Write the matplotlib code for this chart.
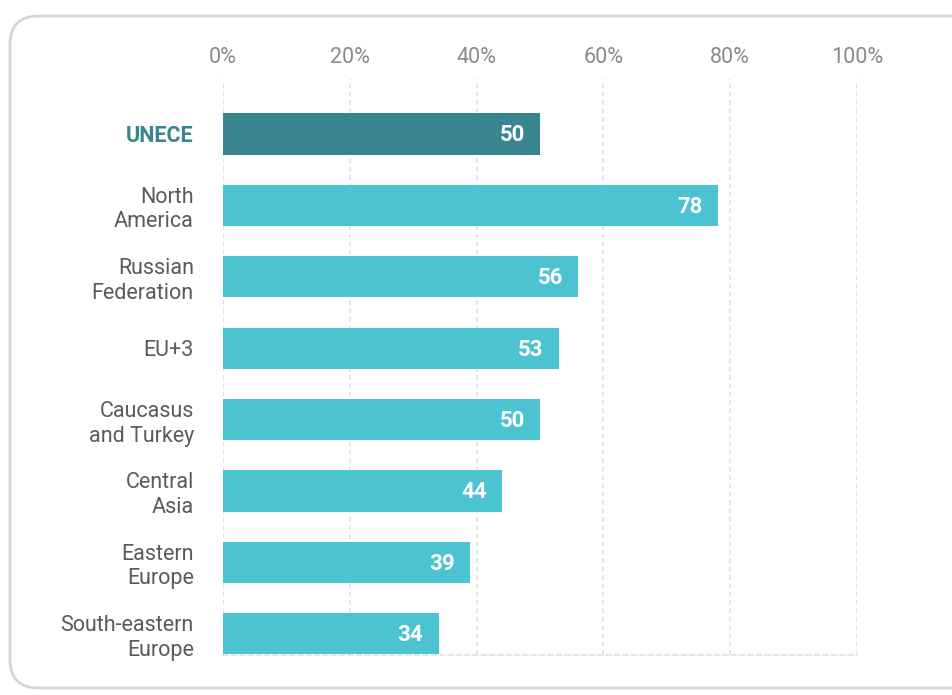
import matplotlib.pyplot as plt
from matplotlib.patches import FancyBboxPatch

regions = ["UNECE", "North\nAmerica", "Russian\nFederation", "EU+3",
	"Caucasus\nand Turkey", "Central\nAsia", "Eastern\nEurope", "South-eastern\nEurope"]
values = [50, 78, 56, 53, 50, 44, 39, 34]
ticks = [0, 20, 40, 60, 80, 100]
tick_labels = ["0%", "20%", "40%", "60%", "80%", "100%"]

dark = "#37858f"
light = "#4bc3d1"

plt.rcParams['font.family'] = ['Roboto', 'DejaVu Sans']

def main():
	fig = plt.figure(figsize=(9.52, 6.95), dpi=100)

	# rounded frame around the chart
	frame = FancyBboxPatch((10 / 952, 7 / 695), 1.2, 672 / 695,
		boxstyle="round,pad=0,rounding_size=0.03", transform=fig.transFigure,
		facecolor="none", edgecolor="#d6d6d6", linewidth=2, mutation_aspect=952 / 695,
		zorder=-1)
	fig.patches.append(frame)

	ax = fig.add_axes([223 / 952, 40.5 / 695, 634 / 952, 575.5 / 695])
	ax.set_facecolor("none")

	y = list(range(len(regions)))
	colors = [dark] + [light] * (len(regions) - 1)
	ax.barh(y, values, height=0.575, color=colors, zorder=2)

	for i, v in enumerate(values):
		ax.text(v - 2.4, i + 0.02, str(v), ha="right", va="center", color="white",
			fontsize=16, fontweight="bold", zorder=3)

	ax.set_xlim(0, 100)
	ax.set_ylim(7.29, -0.77)
	ax.set_xticks(ticks)
	ax.set_xticklabels(tick_labels)
	ax.xaxis.tick_top()
	ax.tick_params(axis="x", length=0, pad=8, labelsize=15.5, labelcolor="#8a8a8a")

	ax.set_yticks(y)
	ax.set_yticklabels(regions)
	ax.tick_params(axis="y", length=0, pad=21, labelsize=15.5, labelcolor="#5a5a5a")
	for lab in ax.get_yticklabels():
		lab.set_horizontalalignment("right")
		lab.set_multialignment("right")
		lab.set_linespacing(1.22)
	first = ax.get_yticklabels()[0]
	first.set_color(dark)
	first.set_fontweight("bold")

	ax.grid(axis="x", color="#e2e2e2", linestyle=(0, (3, 2)), linewidth=1.2, zorder=0)
	for s in ["top", "right", "left"]:
		ax.spines[s].set_visible(False)
	ax.spines["bottom"].set_color("#e2e2e2")
	ax.spines["bottom"].set_linestyle((0, (3, 2)))
	ax.spines["bottom"].set_linewidth(1.2)

	fig.savefig("out.png", dpi=100)

if __name__ == "__main__":
	main()
